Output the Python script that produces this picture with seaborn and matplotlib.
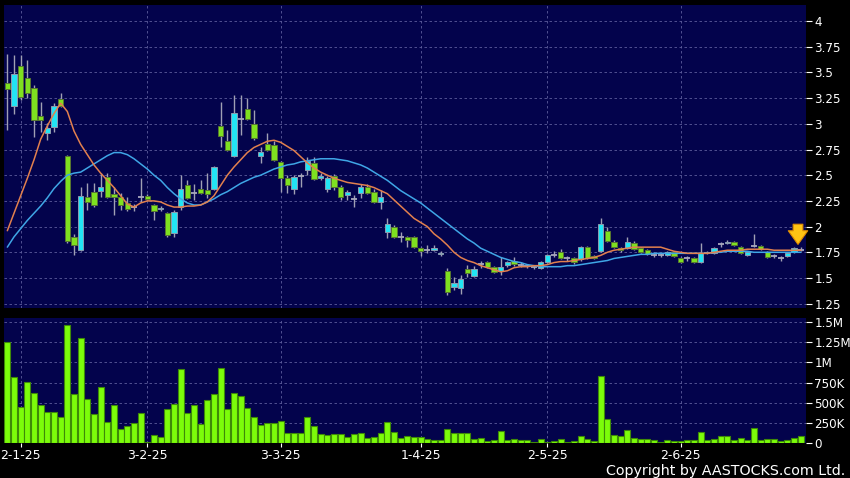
import numpy as np
import pandas as pd
import seaborn as sns
from matplotlib import pyplot as plt
from matplotlib.ticker import FixedLocator, FuncFormatter


# daily OHLC (trading days from 30-12-24 to 26-6-25)
opens = [3.40, 3.17, 3.56, 3.45, 3.35, 3.08, 2.91, 2.97, 3.24, 2.69,
         1.90, 1.77, 2.29, 2.34, 2.35, 2.48, 2.32, 2.29, 2.23, 2.19,
         2.29, 2.30, 2.21, 2.17, 2.13, 1.94, 2.19, 2.40, 2.33, 2.37,
         2.36, 2.37, 2.98, 2.83, 2.69, 3.05, 3.14, 3.00, 2.69, 2.80,
         2.79, 2.63, 2.47, 2.37, 2.49, 2.55, 2.62, 2.47, 2.37, 2.49,
         2.39, 2.31, 2.27, 2.33, 2.39, 2.34, 2.24, 1.95, 2.00, 1.90,
         1.90, 1.90, 1.79, 1.77, 1.77, 1.73, 1.57, 1.41, 1.40, 1.59,
         1.52, 1.64, 1.66, 1.61, 1.57, 1.63, 1.67, 1.63, 1.62, 1.61,
         1.60, 1.66, 1.72, 1.75, 1.69, 1.69, 1.68, 1.80, 1.71, 1.76,
         1.96, 1.85, 1.79, 1.79, 1.84, 1.79, 1.77, 1.72, 1.72, 1.72,
         1.75, 1.69, 1.69, 1.69, 1.66, 1.74, 1.74, 1.83, 1.84, 1.85,
         1.80, 1.72, 1.81, 1.81, 1.75, 1.71, 1.69, 1.71, 1.75, 1.77]
highs = [3.68, 3.67, 3.67, 3.62, 3.38, 3.21, 3.01, 3.20, 3.30, 2.70,
         1.93, 2.39, 2.42, 2.42, 2.52, 2.52, 2.39, 2.33, 2.29, 2.22,
         2.47, 2.32, 2.22, 2.20, 2.14, 2.16, 2.50, 2.45, 2.41, 2.45,
         2.52, 2.59, 3.21, 2.94, 3.28, 3.28, 3.25, 3.13, 2.77, 2.91,
         2.83, 2.64, 2.50, 2.50, 2.52, 2.68, 2.68, 2.52, 2.49, 2.51,
         2.40, 2.36, 2.31, 2.41, 2.41, 2.37, 2.36, 2.08, 2.02, 1.95,
         1.91, 1.91, 1.80, 1.82, 1.82, 1.76, 1.60, 1.51, 1.53, 1.63,
         1.62, 1.67, 1.67, 1.62, 1.70, 1.67, 1.70, 1.66, 1.64, 1.63,
         1.67, 1.73, 1.76, 1.78, 1.71, 1.70, 1.81, 1.81, 1.72, 2.08,
         2.00, 1.87, 1.80, 1.90, 1.86, 1.80, 1.78, 1.75, 1.74, 1.76,
         1.76, 1.70, 1.71, 1.70, 1.84, 1.76, 1.80, 1.85, 1.87, 1.86,
         1.81, 1.76, 1.93, 1.82, 1.76, 1.73, 1.71, 1.75, 1.80, 1.80]
lows = [2.94, 3.10, 3.23, 3.25, 2.87, 2.92, 2.84, 2.92, 3.16, 1.84,
        1.72, 1.76, 2.16, 2.19, 2.29, 2.28, 2.11, 2.16, 2.15, 2.15,
        2.24, 2.26, 2.06, 2.15, 1.90, 1.90, 2.16, 2.27, 2.26, 2.32,
        2.28, 2.36, 2.77, 2.74, 2.68, 2.89, 3.04, 2.84, 2.62, 2.74,
        2.64, 2.34, 2.33, 2.32, 2.39, 2.50, 2.45, 2.45, 2.34, 2.36,
        2.26, 2.26, 2.19, 2.28, 2.32, 2.23, 2.17, 1.89, 1.89, 1.85,
        1.80, 1.79, 1.71, 1.74, 1.76, 1.71, 1.33, 1.38, 1.34, 1.51,
        1.51, 1.60, 1.60, 1.55, 1.53, 1.61, 1.62, 1.61, 1.60, 1.59,
        1.59, 1.65, 1.70, 1.68, 1.67, 1.64, 1.67, 1.68, 1.68, 1.75,
        1.85, 1.79, 1.75, 1.78, 1.77, 1.74, 1.72, 1.70, 1.70, 1.71,
        1.70, 1.65, 1.67, 1.65, 1.65, 1.73, 1.73, 1.80, 1.83, 1.81,
        1.73, 1.71, 1.80, 1.77, 1.69, 1.69, 1.67, 1.70, 1.74, 1.76]
closes = [3.34, 3.48, 3.26, 3.30, 3.04, 3.04, 2.96, 3.17, 3.17, 1.86,
          1.82, 2.30, 2.24, 2.21, 2.39, 2.29, 2.29, 2.21, 2.17, 2.19,
          2.29, 2.27, 2.15, 2.18, 1.92, 2.14, 2.37, 2.28, 2.33, 2.33,
          2.32, 2.58, 2.88, 2.75, 3.11, 3.05, 3.05, 2.86, 2.73, 2.75,
          2.65, 2.47, 2.40, 2.48, 2.49, 2.64, 2.46, 2.49, 2.47, 2.39,
          2.29, 2.34, 2.27, 2.39, 2.33, 2.24, 2.29, 2.03, 1.90, 1.90,
          1.87, 1.80, 1.76, 1.77, 1.79, 1.74, 1.36, 1.45, 1.49, 1.55,
          1.59, 1.64, 1.61, 1.56, 1.61, 1.66, 1.64, 1.63, 1.62, 1.61,
          1.66, 1.72, 1.72, 1.69, 1.69, 1.66, 1.80, 1.69, 1.69, 2.03,
          1.86, 1.80, 1.77, 1.85, 1.78, 1.75, 1.73, 1.72, 1.72, 1.75,
          1.71, 1.66, 1.69, 1.66, 1.74, 1.74, 1.79, 1.83, 1.85, 1.82,
          1.74, 1.75, 1.81, 1.78, 1.70, 1.71, 1.69, 1.74, 1.79, 1.77]

# moving averages as drawn (orange = 10 day, blue = 20 day)
ma10 = [1.96, 2.13, 2.30, 2.47, 2.65, 2.85, 2.98, 3.10, 3.20, 3.12,
        2.93, 2.80, 2.70, 2.60, 2.52, 2.45, 2.38, 2.30, 2.22, 2.19,
        2.23, 2.25, 2.25, 2.24, 2.21, 2.19, 2.19, 2.20, 2.20, 2.21,
        2.24, 2.30, 2.40, 2.50, 2.58, 2.65, 2.72, 2.77, 2.80, 2.83,
        2.84, 2.82, 2.78, 2.74, 2.68, 2.62, 2.57, 2.53, 2.50, 2.47,
        2.45, 2.43, 2.42, 2.41, 2.40, 2.38, 2.35, 2.32, 2.26, 2.20,
        2.14, 2.08, 2.04, 2.00, 1.93, 1.88, 1.82, 1.75, 1.70, 1.67,
        1.65, 1.62, 1.60, 1.58, 1.56, 1.57, 1.60, 1.61, 1.61, 1.62,
        1.62, 1.63, 1.65, 1.66, 1.66, 1.67, 1.68, 1.69, 1.70, 1.72,
        1.75, 1.77, 1.78, 1.79, 1.80, 1.80, 1.80, 1.80, 1.80, 1.78,
        1.76, 1.75, 1.74, 1.74, 1.74, 1.74, 1.75, 1.76, 1.77, 1.77,
        1.77, 1.78, 1.78, 1.78, 1.78, 1.77, 1.77, 1.77, 1.77, 1.77]
ma20 = [1.80, 1.90, 1.98, 2.06, 2.13, 2.20, 2.28, 2.37, 2.44, 2.50,
        2.52, 2.53, 2.57, 2.61, 2.65, 2.69, 2.72, 2.72, 2.70, 2.66,
        2.61, 2.56, 2.50, 2.45, 2.38, 2.32, 2.27, 2.23, 2.21, 2.21,
        2.24, 2.27, 2.31, 2.34, 2.38, 2.42, 2.45, 2.48, 2.50, 2.53,
        2.56, 2.58, 2.60, 2.61, 2.63, 2.64, 2.65, 2.66, 2.66, 2.66,
        2.65, 2.64, 2.62, 2.60, 2.57, 2.53, 2.49, 2.45, 2.40, 2.35,
        2.31, 2.27, 2.23, 2.18, 2.13, 2.08, 2.03, 1.98, 1.93, 1.88,
        1.84, 1.79, 1.76, 1.73, 1.70, 1.68, 1.66, 1.65, 1.63, 1.62,
        1.61, 1.61, 1.61, 1.61, 1.62, 1.62, 1.63, 1.64, 1.65, 1.66,
        1.67, 1.69, 1.70, 1.71, 1.72, 1.73, 1.73, 1.74, 1.74, 1.74,
        1.74, 1.74, 1.74, 1.74, 1.74, 1.74, 1.75, 1.75, 1.76, 1.76,
        1.76, 1.76, 1.75, 1.75, 1.75, 1.75, 1.75, 1.75, 1.75, 1.75]

# volume in thousands of shares
volumes_k = [1256, 822, 450, 752, 624, 467, 384, 384, 326, 1463,
             612, 1302, 545, 364, 694, 264, 471, 174, 211, 244,
             372, 17, 99, 79, 421, 479, 913, 368, 471, 236,
             529, 603, 926, 426, 620, 587, 430, 322, 219, 252,
             248, 269, 124, 124, 120, 326, 215, 116, 99, 107,
             112, 79, 107, 124, 62, 74, 124, 256, 140, 66,
             83, 79, 74, 45, 37, 37, 174, 120, 120, 120,
             45, 58, 21, 37, 149, 41, 54, 37, 37, 12,
             50, 17, 29, 45, 17, 25, 83, 50, 29, 830,
             298, 103, 91, 161, 62, 45, 45, 33, 17, 41,
             29, 29, 37, 41, 136, 37, 50, 83, 83, 41,
             62, 41, 186, 37, 50, 50, 29, 33, 62, 87]

# date ticks (index into the trading days) and their labels
tick_pos = [2, 21, 41, 62, 81, 101]
tick_labels = ["2-1-25", "3-2-25", "3-3-25", "1-4-25", "2-5-25", "2-6-25"]
price_ticks = [1.25, 1.5, 1.75, 2, 2.25, 2.5, 2.75, 3, 3.25, 3.5, 3.75, 4]
vol_ticks = [0, 250, 500, 750, 1000, 1250, 1500]
vol_labels = ["0", "250K", "500K", "750K", "1M", "1.25M", "1.5M"]

df = pd.DataFrame({"open": opens, "high": highs, "low": lows, "close": closes,
                   "ma10": ma10, "ma20": ma20, "vol": np.array(volumes_k) * 1000})
df["day"] = np.arange(len(df))

NAVY = "#03034c"
GRID = "#5c5c9c"
sns.set_theme(style="dark", rc={"axes.facecolor": NAVY, "figure.facecolor": "black",
                                "axes.edgecolor": NAVY, "text.color": "white",
                                "xtick.color": "white", "ytick.color": "white"})
plt.rcParams["font.family"] = ["DejaVu Sans"]

fig = plt.figure(figsize=(8.5, 4.78), dpi=100)
ax1 = fig.add_axes([4 / 850, 1 - 308 / 478, 802 / 850, 303 / 478])
ax2 = fig.add_axes([4 / 850, 1 - 443 / 478, 802 / 850, 125 / 478])

# candles
up = df.close > df.open
down = df.close < df.open
flat = df.close == df.open
ax1.vlines(df.day, df.low, df.high, color="#a0a0b4", lw=1, zorder=2)
body = (df.close - df.open).abs().clip(lower=0.008)
bottom = df[["open", "close"]].min(axis=1)
ax1.bar(df.day[up], body[up], bottom=bottom[up], width=0.82,
        color="#22e4f4", edgecolor="#8c9cb0", lw=0.7, zorder=3)
ax1.bar(df.day[down], body[down], bottom=bottom[down], width=0.82,
        color="#7ee020", edgecolor="#587830", lw=0.7, zorder=3)
ax1.hlines(df.close[flat], df.day[flat] - 0.45, df.day[flat] + 0.45,
           color="#a8a8bc", lw=1.3, zorder=3)

sns.lineplot(data=df, x="day", y="ma20", ax=ax1, color="#3fa6e6", lw=1.1, zorder=4)
sns.lineplot(data=df, x="day", y="ma10", ax=ax1, color="#e2804e", lw=1.1, zorder=5)

# marker arrow over the latest session
last = len(df) - 1
tip = df.high.iloc[-2:].max()
ax1.annotate("", xy=(last - 0.4, tip), xytext=(last - 0.4, tip + 0.25),
             arrowprops=dict(arrowstyle="simple,head_length=0.7,head_width=1.0,tail_width=0.5",
                             mutation_scale=14, fc="#ffc414", ec="#e08c00", lw=0.8),
             zorder=6)

# volume
sns.barplot(data=df, x="day", y="vol", ax=ax2, color="#7cfc0a", saturation=1,
            width=0.86, edgecolor="#3e8a08", linewidth=0.8, zorder=3)

for ax in (ax1, ax2):
    ax.set_xlim(-0.5, 119.8)
    ax.yaxis.tick_right()
    ax.set_xlabel("")
    ax.set_ylabel("")
    ax.grid(True, ls=(0, (3, 3)), color=GRID, lw=0.6, zorder=0)
    ax.set_axisbelow(True)
    for s in ax.spines.values():
        s.set_visible(False)
    ax.tick_params(axis="y", length=4, width=0.8, pad=2, labelsize=8.6,
                   colors="white", right=True, left=False)
    ax.xaxis.set_major_locator(FixedLocator(tick_pos))

ax1.set_ylim(1.208, 4.156)
ax1.yaxis.set_major_locator(FixedLocator(price_ticks))
ax1.yaxis.set_major_formatter(FuncFormatter(lambda v, p: f"{v:g}"))
ax1.tick_params(axis="x", length=0, labelbottom=False)

ax2.set_ylim(0, 1.55e6)
ax2.yaxis.set_major_locator(FixedLocator([v * 1000 for v in vol_ticks]))
ax2.set_yticklabels(vol_labels)
ax2.set_xticklabels(tick_labels)
ax2.tick_params(axis="x", length=3, width=0.8, pad=1.5, labelsize=9,
                colors="white", bottom=True)

fig.text(0.995, 0.0, "Copyright by AASTOCKS.com Ltd.", ha="right", va="bottom",
         color="white", fontsize=10.3)

fig.savefig("out.png", dpi=100, facecolor="black")
